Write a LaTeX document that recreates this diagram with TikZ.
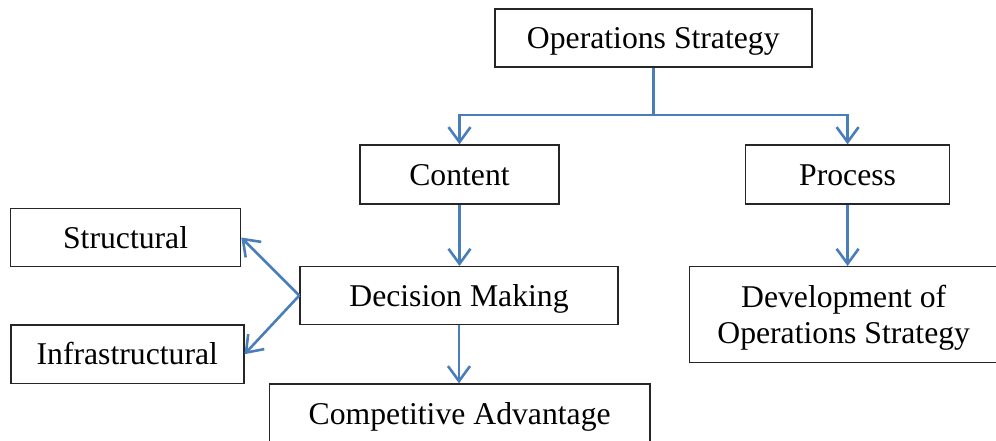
\documentclass[tikz,border=0pt]{standalone}
\usepackage{fontspec}
\setmainfont{Liberation Serif}
\usetikzlibrary{arrows.meta}
\definecolor{linkblue}{RGB}{74,126,187}
\tikzset{
  box/.style={draw=black!85, line width=1.4pt, fill=white, inner sep=0pt,
    align=center, font=\fontsize{31.7}{36.5}\selectfont,
    text height=28.2pt, text depth=6.8pt},
  link/.style={draw=linkblue, line width=2.6pt,
    -{Straight Barb[length=15pt,width=22pt,line width=2.6pt]}}
}
\begin{document}
\begin{tikzpicture}[x=1pt,y=-1pt]
\useasboundingbox (0,0) rectangle (996,441);
% boxes
\node[box, minimum width=317pt, minimum height=58pt] (ops) at (653.3,38.2) {Operations Strategy};
\node[box, minimum width=199pt, minimum height=59pt] (content) at (459.5,174.5) {Content};
\node[box, minimum width=204pt, minimum height=59pt] (process) at (847.6,174.5) {Process};
\node[box, minimum width=230pt, minimum height=58.4pt] (structural) at (125.6,237.5) {Structural};
\node[box, minimum width=233pt, minimum height=58.3pt] (infra) at (127.3,354.2) {Infrastructural};
\node[box, minimum width=318pt, minimum height=57.6pt] (decision) at (459,295.5) {Decision Making};
\node[box, minimum width=380.7pt, minimum height=59pt] (competitive) at (459.7,413.5) {Competitive Advantage};
% two-line box: height measured from the last baseline
\node[box, minimum width=308pt, minimum height=96pt, text height=64.7pt] (development) at (843.7,314.7) {Development of\\Operations Strategy};
% connectors: branch point below the top box
\coordinate (bus) at (ops.south |- 0,115);
\draw[link] (ops.south) -- (bus) -| (content.north);
\draw[link] (ops.south) -- (bus) -| (process.north);
\draw[link] (content.south) -- (content.south |- decision.north);
\draw[link] (process.south) -- (process.south |- development.north);
\draw[link] (decision.south) -- (decision.south |- competitive.north);
\draw[link] (decision.west) -- (structural.east);
\draw[link] (decision.west) -- (infra.east);
\end{tikzpicture}
\end{document}
